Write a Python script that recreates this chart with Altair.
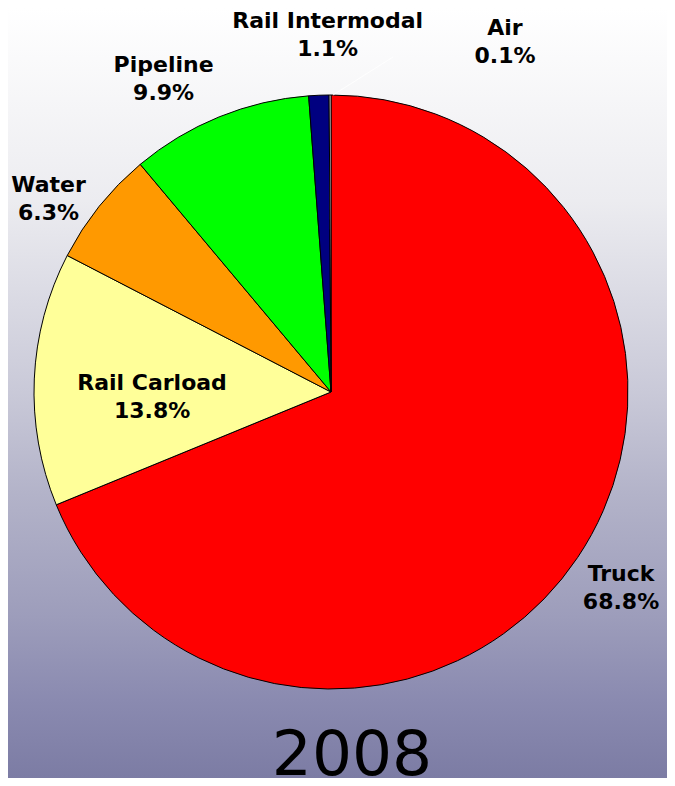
import altair as alt
import pandas as pd

# ---- data ----
modes = ["Truck", "Rail Carload", "Water", "Pipeline", "Rail Intermodal", "Air"]
shares = [68.8, 13.8, 6.3, 9.9, 1.1, 0.1]
year_label = "2008"

# ---- styles (not data) ----
colors = ["#ff0000", "#ffff99", "#ff9900", "#00ff00", "#000080", "#ffffff"]
# label placement: angular offset (deg) from slice midpoint, and radius (px)
label_angle_offset = {"Truck": 0.2, "Rail Carload": -4.1, "Water": -4.4,
                      "Pipeline": -6.0, "Rail Intermodal": 1.8, "Air": 26.6}
label_radius = {"Truck": 350, "Rail Carload": 179, "Water": 342,
                "Pipeline": 355, "Rail Intermodal": 357, "Air": 391}

W, H = 659, 770
CX, CY, R = 323, 384, 297
LH = 28

df = pd.DataFrame({"mode": modes, "share": shares, "order": list(range(len(modes)))})
df["off"] = df["mode"].map(label_angle_offset)
df["lr"] = df["mode"].map(label_radius)

bg = alt.Chart(alt.Data(values=[{}])).mark_rect(
    color=alt.Gradient(
        gradient="linear",
        stops=[
            alt.GradientStop(color="#ffffff", offset=0),
            alt.GradientStop(color="#ececf0", offset=0.25),
            alt.GradientStop(color="#c9c9d8", offset=0.5),
            alt.GradientStop(color="#b3b3c9", offset=0.63),
            alt.GradientStop(color="#9d9dbb", offset=0.79),
            alt.GradientStop(color="#8a8ab0", offset=0.9),
            alt.GradientStop(color="#7c7ca4", offset=1),
        ],
        x1=0, x2=0, y1=0, y2=1,
    )
).encode(x=alt.value(0), x2=alt.value(W), y=alt.value(0), y2=alt.value(H))

base = alt.Chart(df)

pie = base.mark_arc(outerRadius=R, stroke="black", strokeWidth=1).encode(
    theta=alt.Theta("share:Q", stack=True),
    order=alt.Order("order:Q", sort="ascending"),
    color=alt.Color("mode:N", scale=alt.Scale(domain=modes, range=colors), legend=None),
    x=alt.value(CX),
    y=alt.value(CY),
)

# faint leader line for the tiny Air slice
leader = alt.Chart(alt.Data(values=[{}])).mark_rule(
    color="white", strokeWidth=1, opacity=0.9
).encode(x=alt.value(325), y=alt.value(87), x2=alt.value(385), y2=alt.value(49))

labels = base.transform_window(
    cum="sum(share)", sort=[alt.SortField("order", order="ascending")]
).transform_joinaggregate(
    total="sum(share)"
).transform_calculate(
    ang="(datum.cum - datum.share/2) / datum.total * 2 * PI + datum.off * PI / 180",
    txt="datum.mode + '\\n' + format(datum.share, '.1f') + '%'",
).mark_text(
    font="DejaVu Sans", fontWeight="bold", fontSize=22, lineBreak="\n",
    lineHeight=LH, align="center", baseline="middle", color="black", dy=-LH / 2,
).encode(
    theta=alt.Theta("ang:Q", scale=None, stack=None),
    radius=alt.Radius("lr:Q", scale=None),
    text="txt:N",
    x=alt.value(CX),
    y=alt.value(CY),
)

title = alt.Chart(alt.Data(values=[{"t": year_label}])).mark_text(
    font="DejaVu Sans", fontSize=63, align="center", baseline="alphabetic", color="black"
).encode(text="t:N", x=alt.value(344), y=alt.value(767))

chart = alt.layer(bg, pie, leader, labels, title).properties(
    width=W, height=H, padding=0,
    autosize=alt.AutoSizeParams(type="fit", contains="padding"),
).configure_view(stroke=None)

chart.save("out.html", embed_options={"renderer": "svg", "actions": False})
